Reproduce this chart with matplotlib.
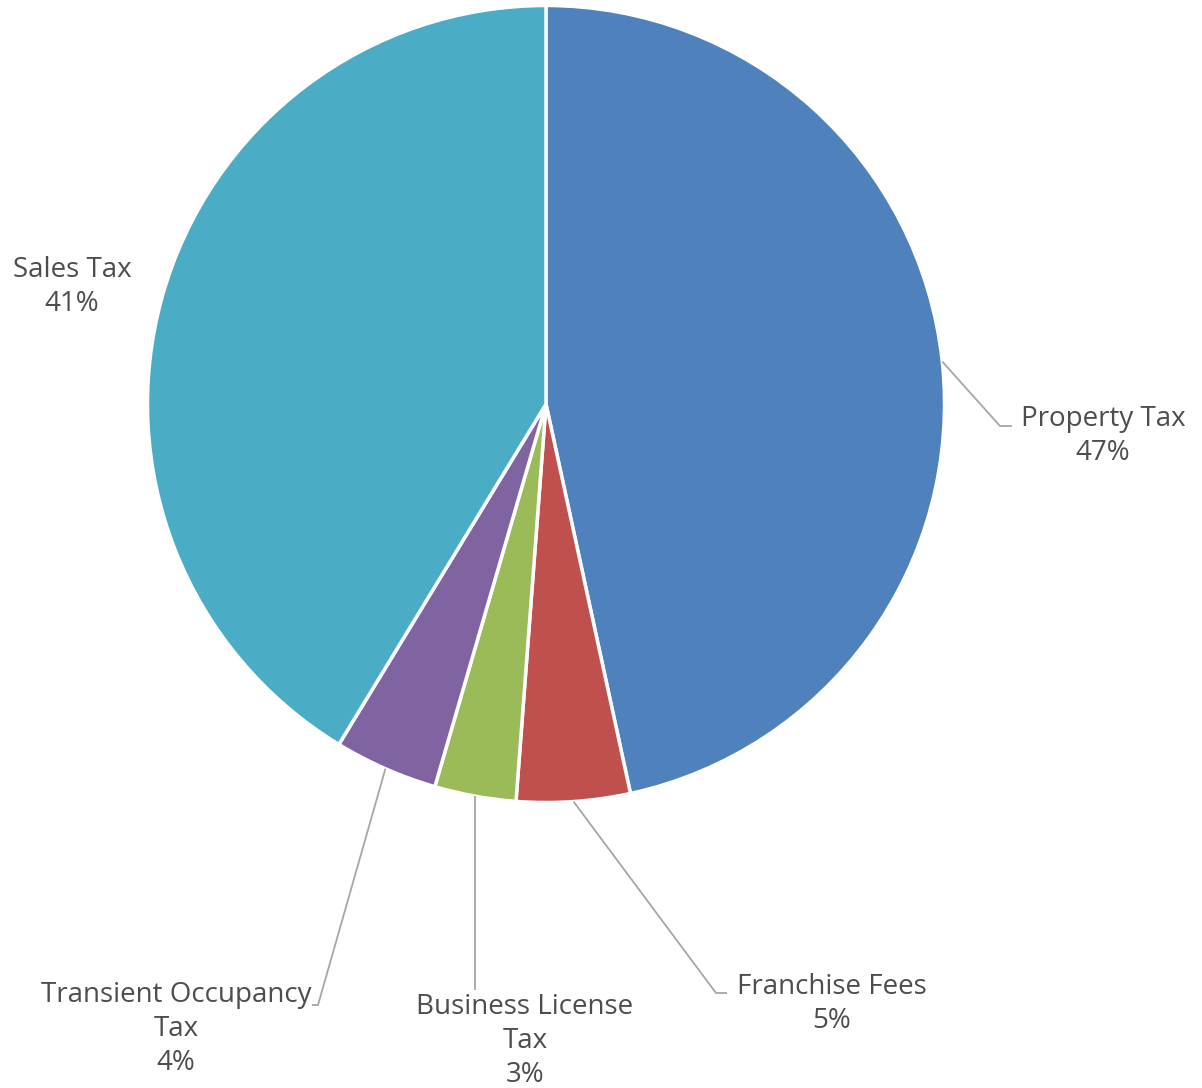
import numpy as np
import matplotlib.pyplot as plt

# revenue shares (percent), clockwise from 12 o'clock
names = ["Property Tax", "Franchise Fees", "Business License\nTax",
         "Transient Occupancy\nTax", "Sales Tax"]
shares = [46.6, 4.6, 3.3, 4.2, 41.3]
colors = ["#4F81BD", "#C0504D", "#9BBB59", "#8064A2", "#4BACC6"]

W, H = 1202, 1088
fig = plt.figure(figsize=(W / 100, H / 100), dpi=100)
ax = fig.add_axes([0, 0, 1, 1])

cx, cy, r = 546, H - 404, 398.5
wedges, _ = ax.pie(shares, colors=colors, startangle=90, counterclock=False,
                   center=(cx, cy), radius=r, frame=True,
                   wedgeprops=dict(edgecolor="white", linewidth=2.5))
ax.set_xlim(0, W)
ax.set_ylim(0, H)
ax.axis("off")

# label placement: text centre, leader elbow, leader end (pixel coords from top)
text_pos = [(1103, 436), (832, 1004), (525, 1041), (176, 1029), (72, 287)]
elbows = [(1000, 426), (716, 993), (None, 990), (318, 1005), None]
ends = [(1012, 426), (727, 993), None, (312, 1005), None]

font = dict(family="Open Sans", size=20, color="#4D4D4D")
for i, w in enumerate(wedges):
    mid = np.deg2rad((w.theta1 + w.theta2) / 2)
    tx, ty = text_pos[i]
    ax.text(tx, H - ty, f"{names[i]}\n{shares[i]:.0f}%", ha="center",
            va="center", multialignment="center", linespacing=1.3, **font)
    if elbows[i] is None:
        continue
    sx = cx + r * np.cos(mid)
    sy = cy + r * np.sin(mid)
    ex = elbows[i][0] if elbows[i][0] is not None else sx
    xs = [sx, ex]
    ys = [sy, H - elbows[i][1]]
    if ends[i] is not None:
        xs.append(ends[i][0])
        ys.append(H - ends[i][1])
    ax.plot(xs, ys, color="#A6A6A6", linewidth=1.3, solid_capstyle="butt")

fig.savefig("out.png", dpi=100)
